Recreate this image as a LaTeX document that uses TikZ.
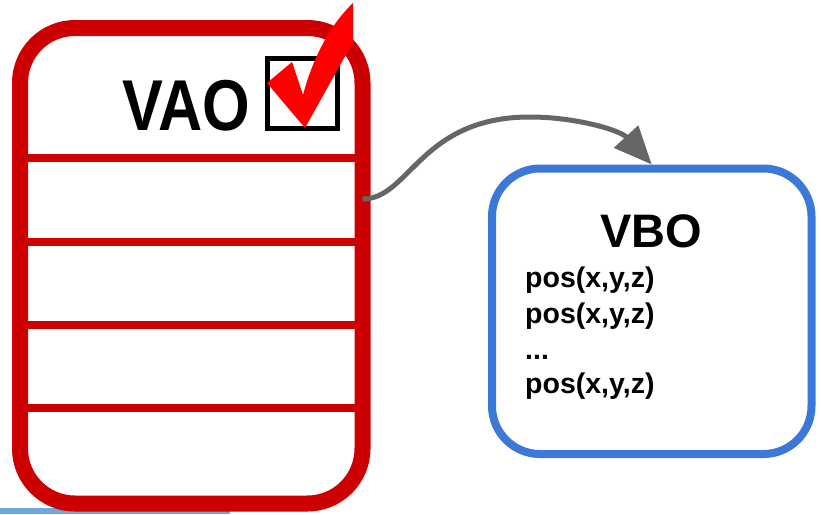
\documentclass[tikz,border=0pt]{standalone}
\usepackage{fontspec}
\setmainfont{Liberation Sans}
\usetikzlibrary{arrows.meta}
\definecolor{vaored}{HTML}{CC0000}
\definecolor{checkred}{HTML}{FF0000}
\definecolor{vboblue}{HTML}{3C78D8}
\definecolor{arrowgray}{HTML}{666666}
\definecolor{barblue}{HTML}{6FA8DC}
\tikzset{
  divider/.style={draw=vaored, line width=8pt},
  posline/.style={anchor=base west, inner sep=0pt, font=\fontsize{28.5}{34}\selectfont\bfseries}
}
\begin{document}
\begin{tikzpicture}[x=1pt,y=-1pt]
\useasboundingbox (0,0) rectangle (821,514);
\fill[barblue] (0,508) rectangle (230,514);
\node[draw=vaored, line width=16pt, rounded corners=55pt, minimum width=342.5pt, minimum height=475.5pt, outer sep=0pt] (vao) at (191.25,265.75) {};
\path[divider] (vao.west |- 0,157.5) -- (vao.east |- 0,157.5);
\path[divider] (vao.west |- 0,242) -- (vao.east |- 0,242);
\path[divider] (vao.west |- 0,325) -- (vao.east |- 0,325);
\path[divider] (vao.west |- 0,408) -- (vao.east |- 0,408);
\node[anchor=base west, inner sep=0pt, xscale=0.85, font=\fontsize{72}{72}\selectfont\bfseries] (vaolabel) at (122,130) {VAO};
\node[draw, line width=5pt, minimum size=70pt, outer sep=0pt] (box) at (302.5,93.5) {};
\fill[checkred] (267,83) -- (292,62) -- (303,95) .. controls (315,50) and (335,20) .. (353,3) -- (353,42) -- (305,128) -- (267,83) -- cycle;

\node[draw=vboblue, line width=8pt, rounded corners=48pt, minimum width=319.5pt, minimum height=285.5pt] (vbo) at (651.75,311.25) {};
\node[anchor=base, inner sep=0pt, font=\fontsize{47}{47}\selectfont\bfseries] (vbolabel) at (651,247) {VBO};
\node[posline] (pos1) at (525,287) {pos(x,y,z)};
\node[posline] (pos2) at (525,323) {pos(x,y,z)};
\node[posline] (dots) at (525,359) {...};
\node[posline] (pos3) at (525,393) {pos(x,y,z)};

\coordinate (vaoout) at (vao.east |- 0,199);
\path[draw=arrowgray, line width=5pt, -{Triangle[length=38pt,width=32pt]}] (vaoout) .. controls (410,199) and (420,117) .. (530,117) .. controls (575,117) and (620,130) .. (vbo.north);
\end{tikzpicture}
\end{document}
